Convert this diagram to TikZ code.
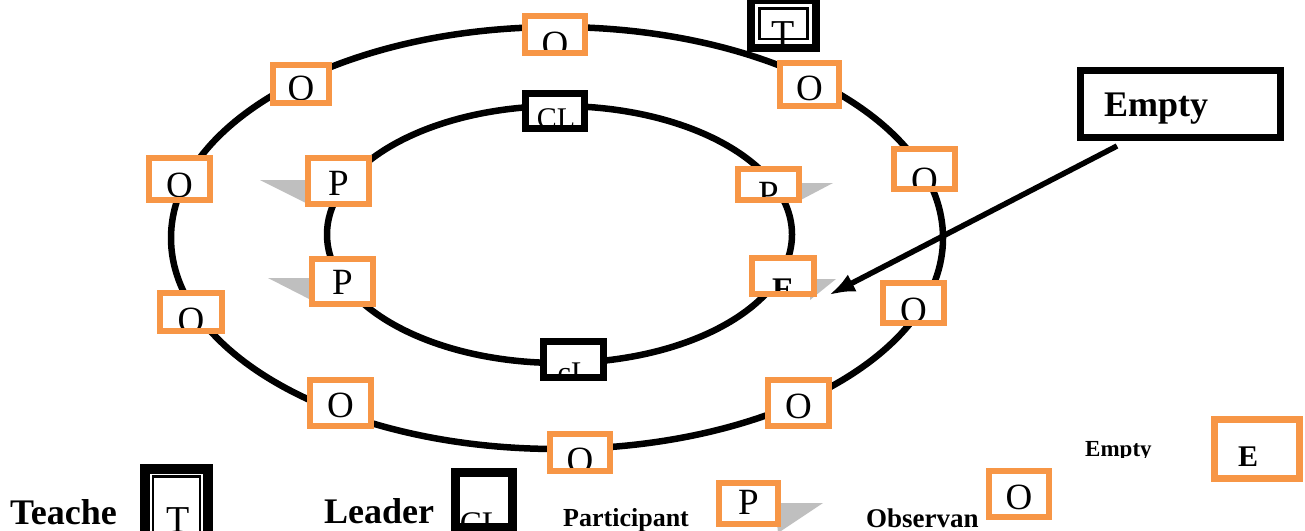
\documentclass[tikz,border=0pt]{standalone}
\usepackage{fontspec}
\setmainfont{Liberation Serif}
\usetikzlibrary{arrows.meta}
\definecolor{orng}{HTML}{F79646}
\definecolor{shd}{HTML}{BFBFBF}
\newcommand\fs[1]{\fontsize{#1}{#1}\selectfont}
\newcommand\boxlab[4]{\node[anchor=base,inner sep=0pt,draw=none,fill=none,minimum size=0pt,font=#4] at ([xshift=#1pt,yshift=-#2pt]path picture bounding box.center) {#3};}
\newcommand\innerrect[1]{\draw[black,line width=2.5pt] ([xshift=#1pt,yshift=-#1pt]path picture bounding box.north west) rectangle ([xshift=-#1pt,yshift=#1pt]path picture bounding box.south east);}
\begin{document}
\begin{tikzpicture}[x=1pt,y=-1pt,
 ring/.style={line width=6.5pt},
 obox/.style={draw=orng,line width=6.5pt,fill=white,inner sep=0pt,outer sep=0pt},
 kbox/.style={draw=black,line width=7pt,fill=white,inner sep=0pt,outer sep=0pt},
 sz/.style 2 args={minimum width=#1pt,minimum height=#2pt},
 shadow/.style={fill=shd,draw=none},
 lbl/.style={anchor=base west,inner sep=0pt,font=\bfseries\fs{36}}]
\useasboundingbox (0,0) rectangle (1305,530);
% rings
\draw[ring] (557,238) ellipse [x radius=386pt, y radius=211pt];
\draw[ring] (559.5,234.5) ellipse [x radius=232.5pt, y radius=128.5pt];
% shadows
\fill[shadow] (260,180) -- (312,180) -- (312,206) -- cycle;
\fill[shadow] (268,278) -- (315,278) -- (315,302) -- cycle;
\fill[shadow] (795,183) -- (833,183) -- (795,203) -- cycle;
\fill[shadow] (810,279) -- (836,279) -- (810,300) -- cycle;
% outer ring observers
\node[obox,sz={60}{37},path picture={\boxlab{0}{21.5}{O}{\fs{37}}}] (o1) at (555,34.5) {};
\node[obox,sz={56}{38},path picture={\boxlab{0}{16}{O}{\fs{37}}}] (o2) at (301,84) {};
\node[obox,sz={59}{43},path picture={\boxlab{0}{15.5}{O}{\fs{37}}}] (o3) at (809.5,84.5) {};
\node[obox,sz={61}{42},path picture={\boxlab{0}{18}{O}{\fs{37}}}] (o4) at (179.5,179) {};
\node[obox,sz={61}{40},path picture={\boxlab{0}{23}{O}{\fs{37}}}] (o5) at (924.5,169) {};
\node[obox,sz={62}{38},path picture={\boxlab{0}{20}{O}{\fs{37}}}] (o6) at (191,312) {};
\node[obox,sz={61}{40},path picture={\boxlab{0}{19}{O}{\fs{37}}}] (o7) at (913.5,303) {};
\node[obox,sz={61}{46},path picture={\boxlab{0}{14}{O}{\fs{37}}}] (o8) at (340.5,403) {};
\node[obox,sz={61}{46},path picture={\boxlab{0}{15}{O}{\fs{37}}}] (o9) at (798.5,403) {};
\node[obox,sz={60}{37},path picture={\boxlab{0}{19.5}{O}{\fs{37}}}] (o10) at (580,452.5) {};
% teacher
\node[kbox,line width=8pt,sz={65}{47.7},path picture={\boxlab{0}{23}{T}{\fs{38}}\innerrect{8.5}}] (tt) at (783.5,23.85) {};
% inner ring
\node[kbox,sz={59}{35},path picture={\boxlab{1}{17}{CL}{\fs{30}}}] (cl1) at (555,111) {};
\node[kbox,sz={60}{36},path picture={\boxlab{0}{22.5}{cL}{\fs{30}}}] (cl2) at (573.5,359.5) {};
\node[obox,sz={61}{46},path picture={\boxlab{0}{14}{P}{\fs{37}}}] (p1) at (338.5,181) {};
\node[obox,sz={61}{45},path picture={\boxlab{0}{12.5}{P}{\fs{37}}}] (p2) at (342.5,281.5) {};
\node[obox,sz={61}{31},path picture={\boxlab{0}{21.5}{P}{\fs{37}}}] (p3) at (768.5,184.5) {};
\node[obox,sz={62}{36},path picture={\boxlab{0}{24}{E}{\bfseries\fs{33}}}] (e1) at (783,276) {};
% empty callout
\node[kbox,sz={200}{67}] (eb) at (1180.5,104) {};
\node[lbl] (ebt) at (1104,116) {Empty};
\coordinate (atip) at (829,295);
\draw[line width=5.5pt,-{Latex[length=26pt,width=19pt]}] ([xshift=36.5pt,yshift=-8.5pt]eb.south west) -- (atip);
% legend
\node[lbl] (lteach) at (10,524) {Teache};
\node[kbox,line width=10pt,sz={63}{76.5},path picture={\boxlab{1.5}{26}{T}{\fs{38}}\innerrect{8}}] (lt) at (176.5,506.75) {};
\node[lbl] (llead) at (324,523.5) {Leader};
\node[kbox,line width=9pt,sz={57}{54.5},path picture={\boxlab{-3}{34}{CL}{\fs{33}}}] (lcl) at (484,500) {};
\node[lbl,font=\bfseries\fs{26}] (lpart) at (563,526) {Participant};
\fill[shadow] (775,503) -- (823,503) -- (778,533) -- cycle;
\node[obox,sz={59}{41},path picture={\boxlab{0}{10.5}{P}{\fs{37}}}] (lp) at (748.5,503.5) {};
\node[lbl,font=\bfseries\fs{27}] (lobs) at (866,527) {Observan};
\node[obox,sz={60}{46},path picture={\boxlab{0}{15}{O}{\fs{37}}}] (lo) at (1019,494) {};
\begin{scope}
\clip (1070,425) rectangle (1170,457);
\node[lbl,font=\bfseries\fs{23}] (lemp) at (1085,456) {Empty};
\end{scope}
\node[obox,line width=7pt,sz={85}{59},path picture={\boxlab{-9}{17}{E}{\bfseries\fs{30}}}] (le) at (1257,449) {};
\end{tikzpicture}
\end{document}
